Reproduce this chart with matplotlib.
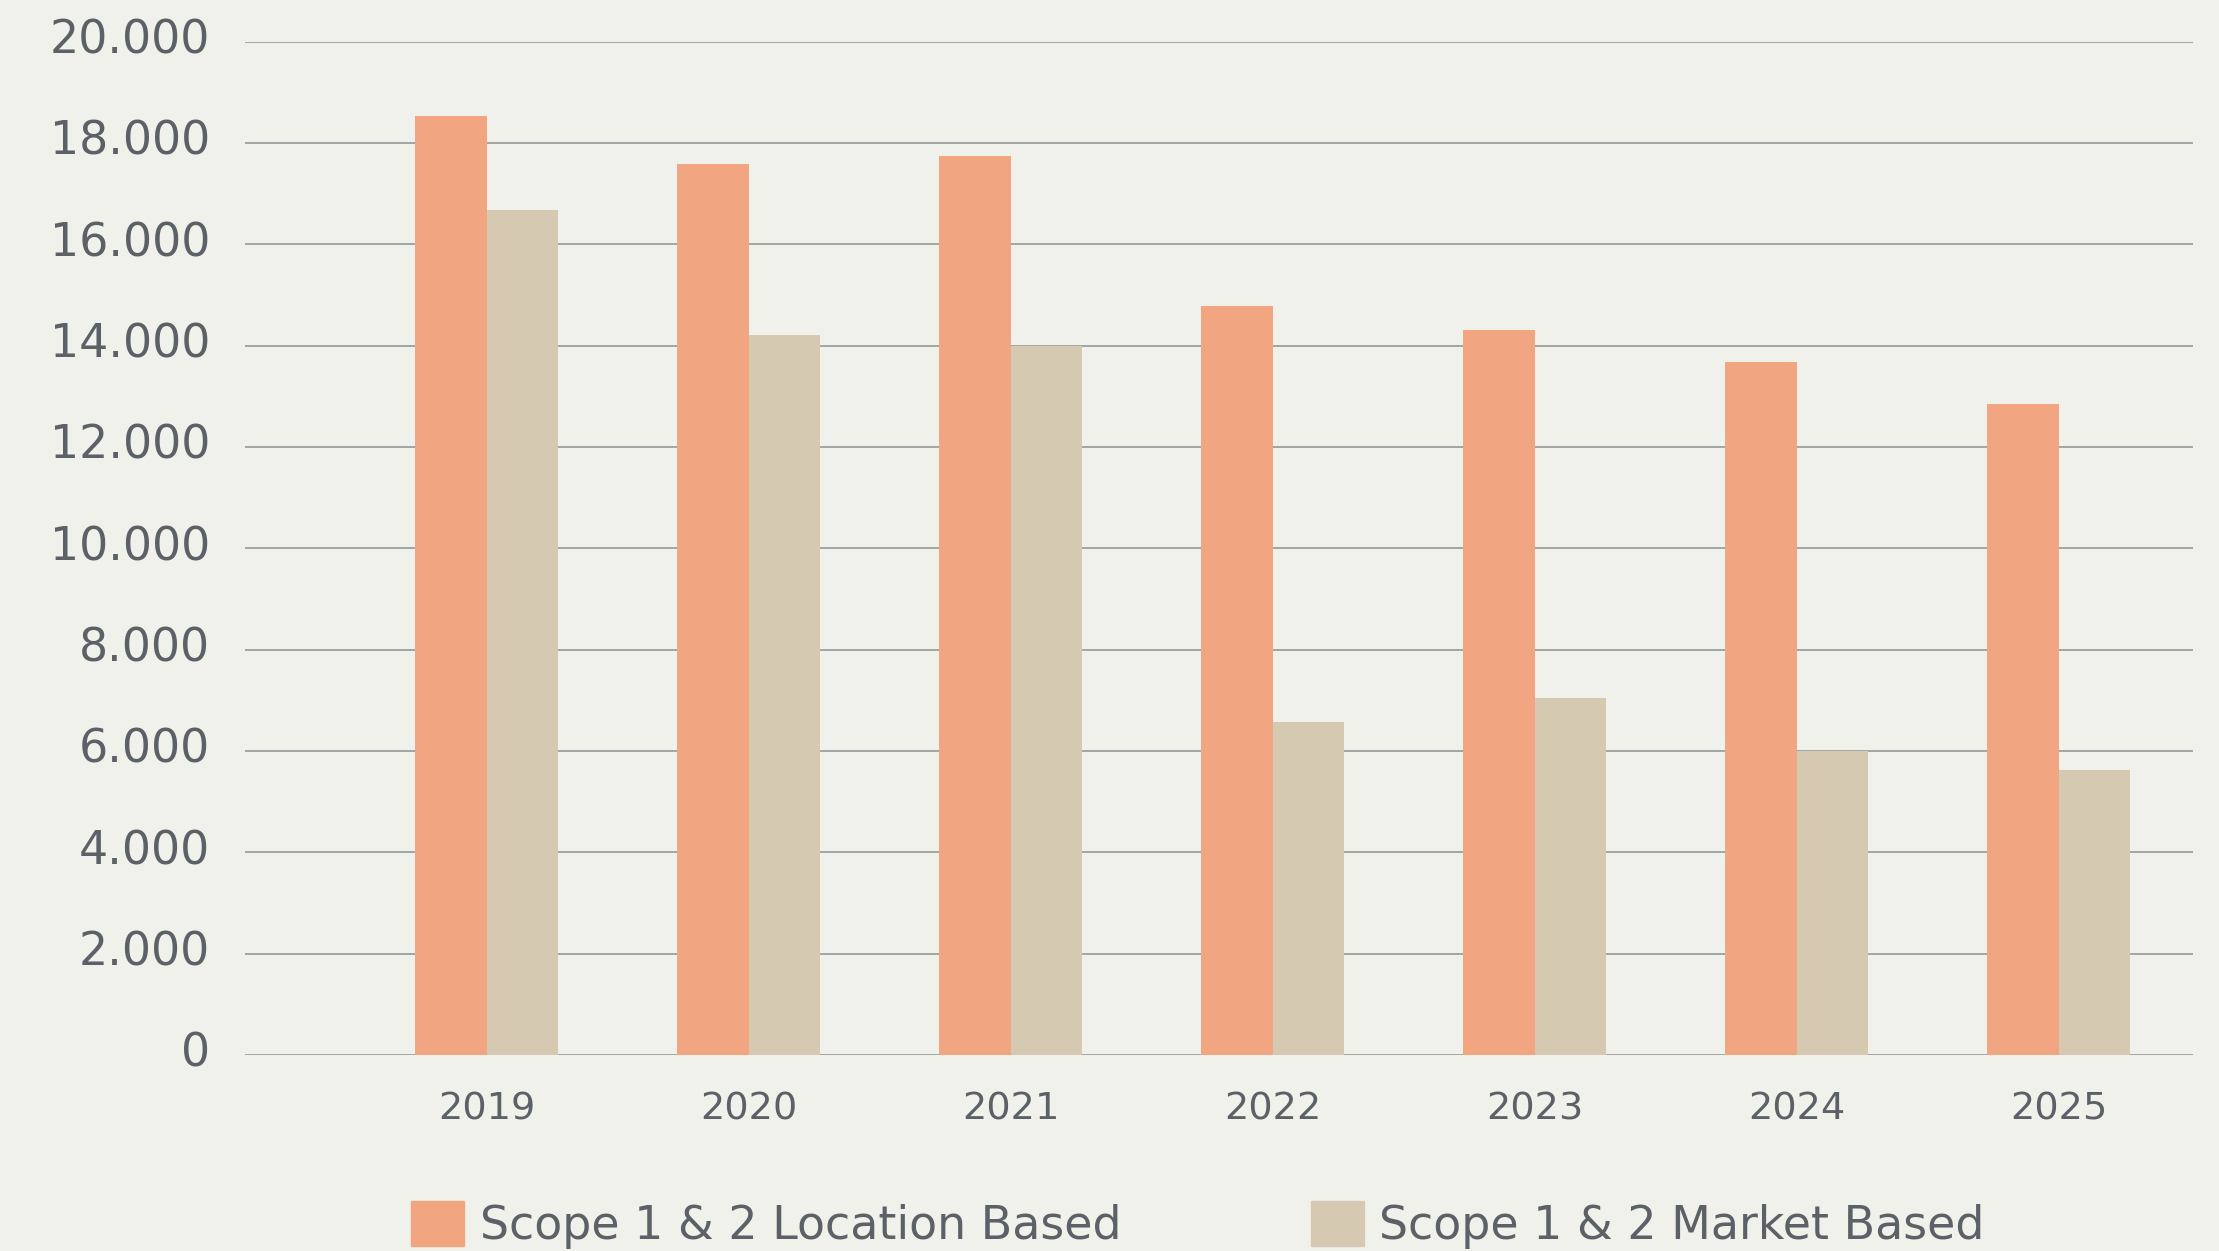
import numpy as np
import matplotlib.pyplot as plt
from matplotlib.ticker import FuncFormatter
from matplotlib.patches import Patch
from matplotlib.transforms import ScaledTranslation

# data
years = ['2019', '2020', '2021', '2022', '2023', '2024', '2025']
location_based = [18530, 17590, 17750, 14790, 14310, 13680, 12850]
market_based = [16680, 14210, 14000, 6580, 7050, 6000, 5630]
series_names = ['Scope 1 & 2 Location Based', 'Scope 1 & 2 Market Based']

bg = '#f1f1ec'
c_loc = '#f1a580'
c_mkt = '#d5c9b2'
txt = '#5b6166'

plt.rcParams['font.family'] = ['DejaVu Sans']

fig = plt.figure(figsize=(22.19, 12.51), dpi=100, facecolor=bg)
ax = fig.add_axes([0.1104, 0.1567, 0.8779, 0.81])
ax.set_facecolor(bg)

x = np.arange(len(years))
w = 0.273
ax.bar(x - w/2, location_based, w, color=c_loc, zorder=3)
ax.bar(x + w/2, market_based, w, color=c_mkt, zorder=3)

ax.set_xlim(-0.922, 6.512)
ax.set_ylim(0, 20000)
ax.set_yticks(np.arange(0, 20001, 2000))
ax.yaxis.set_major_formatter(FuncFormatter(lambda v, p: f'{int(v):,}'.replace(',', '.')))
ax.set_xticks(x)
ax.set_xticklabels(years)

ax.grid(axis='y', color='#8c9191', linewidth=1.1, zorder=0)
for s in ax.spines.values():
    s.set_visible(False)
ax.tick_params(axis='y', length=0, pad=25, labelsize=33, labelcolor=txt)
ax.tick_params(axis='x', length=0, pad=26, labelsize=27.5, labelcolor=txt)
# y labels sit a touch above their gridlines in the original
up = ScaledTranslation(0, 4/72, fig.dpi_scale_trans)
for t in ax.get_yticklabels():
    t.set_transform(t.get_transform() + up)
for t in ax.get_yticklabels() + ax.get_xticklabels():
    t.set_clip_on(False)

# two legend entries placed separately, like the reference
fig.legend(handles=[Patch(color=c_loc, label=series_names[0])], loc='center left',
           bbox_to_anchor=(0.1854, 0.0208), frameon=False, fontsize=33,
           labelcolor=txt, borderpad=0, borderaxespad=0,
           handlelength=1.15, handleheight=1.15, handletextpad=0.34)
fig.legend(handles=[Patch(color=c_mkt, label=series_names[1])], loc='center left',
           bbox_to_anchor=(0.5908, 0.0208), frameon=False, fontsize=33,
           labelcolor=txt, borderpad=0, borderaxespad=0,
           handlelength=1.15, handleheight=1.15, handletextpad=0.34)

fig.savefig('out.png', dpi=100, facecolor=bg)
